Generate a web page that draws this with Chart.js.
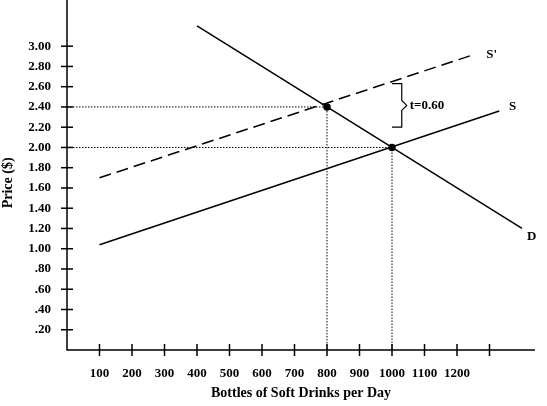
<!DOCTYPE html><html><head><script src="https://cdn.jsdelivr.net/npm/chart.js"></script>
<style>body{margin:0;background:#fff}#w{width:547px;height:406px}</style></head><body><div id="w"><canvas id="c"></canvas></div>
<script>
const demandPts=[{x:400,y:3.2},{x:1400,y:1.2}];
const supplyPts=[{x:100,y:1.04},{x:1330,y:2.36}];
const supplyTaxPts=[{x:100,y:1.7},{x:1255,y:2.92}];
const eqPts=[{x:800,y:2.4},{x:1000,y:2.0}];
const guide1=[{x:0,y:2.4},{x:800,y:2.4},{x:800,y:0}];
const guide2=[{x:0,y:2.0},{x:1000,y:2.0},{x:1000,y:0}];
const hiddenX=[0,1300], hiddenY=[0,3.2];
const F="'Liberation Serif', serif";
const line=(d,ex)=>Object.assign({data:d,borderColor:'#000',borderWidth:1.5,pointRadius:0,fill:false,tension:0},ex);
const onStep=(v,s)=>Math.abs(v/s-Math.round(v/s))<1e-6;
const deco={id:'deco',afterDraw(c){const g=c.ctx,x=c.scales.x,y=c.scales.y;g.save();g.strokeStyle='#000';g.lineWidth=1.5;
 x.ticks.forEach(t=>{if(t.value===0)return;const p=x.getPixelForValue(t.value);g.beginPath();g.moveTo(p,y.bottom-6);g.lineTo(p,y.bottom+6);g.stroke();});
 y.ticks.forEach(t=>{if(t.value===0)return;const p=y.getPixelForValue(t.value);g.beginPath();g.moveTo(x.left-6,p);g.lineTo(x.left+6,p);g.stroke();});
 g.beginPath();g.moveTo(x.left,0);g.lineTo(x.left,y.bottom);g.lineTo(x.right,y.bottom);g.stroke();
 const bx1=x.getPixelForValue(1000),bx2=x.getPixelForValue(1030),t1=y.getPixelForValue(2.63),t2=y.getPixelForValue(2.2),m=(t1+t2)/2;
 g.lineWidth=1.2;g.beginPath();g.moveTo(bx1,t1);g.lineTo(bx2,t1);g.lineTo(bx2,m-5);g.lineTo(bx2+5,m);g.lineTo(bx2,m+5);g.lineTo(bx2,t2);g.lineTo(bx1,t2);g.stroke();
 g.fillStyle='#000';g.font='bold 13px '+F;g.textBaseline='middle';
 g.fillText('t=0.60',bx2+8,m);
 g.fillText("S'",x.getPixelForValue(1290),y.getPixelForValue(2.92));
 g.fillText('S',x.getPixelForValue(1360),y.getPixelForValue(2.4));
 g.fillText('D',x.getPixelForValue(1415),y.getPixelForValue(1.12));
 g.restore();}};
new Chart(document.getElementById('c'),{type:'line',data:{datasets:[
 line(guide1,{borderWidth:1,borderDash:[1.5,1.5]}),
 line(guide2,{borderWidth:1,borderDash:[1.5,1.5]}),
 line(demandPts),line(supplyPts),line(supplyTaxPts,{borderDash:[12,6]}),
 line(eqPts,{showLine:false,pointRadius:3,pointBackgroundColor:'#000'})]},
 options:{responsive:true,maintainAspectRatio:false,animation:false,layout:{padding:{top:0,right:12}},
 plugins:{legend:{display:false},tooltip:{enabled:false}},
 scales:{x:{type:'linear',min:0,max:1440,border:{display:false},grid:{display:false},
   afterBuildTicks:s=>{s.ticks=s.ticks.filter(t=>onStep(t.value,100))},
   ticks:{stepSize:100,color:'#000',font:{family:F,weight:'bold',size:13},padding:8,maxRotation:0,autoSkip:false,callback:v=>hiddenX.includes(v)?'':String(v)},
   title:{display:true,text:'Bottles of Soft Drinks per Day',color:'#000',font:{family:F,weight:'bold',size:14},padding:{top:10}},
   afterFit:s=>{s.height=56}},
  y:{type:'linear',min:0,max:3.3,border:{display:false},grid:{display:false},
   afterBuildTicks:s=>{s.ticks=s.ticks.filter(t=>onStep(t.value,0.2))},
   ticks:{stepSize:0.2,color:'#000',font:{family:F,weight:'bold',size:13},padding:8,autoSkip:false,
    callback:v=>{v=Math.round(v*10)/10;if(hiddenY.includes(v))return '';const s=v.toFixed(2);return v<1?s.slice(1):s;}},
   title:{display:true,text:'Price ($)',color:'#000',font:{family:F,weight:'bold',size:14},padding:0},
   afterFit:s=>{s.width=67}}}},plugins:[deco]});
</script></body></html>
